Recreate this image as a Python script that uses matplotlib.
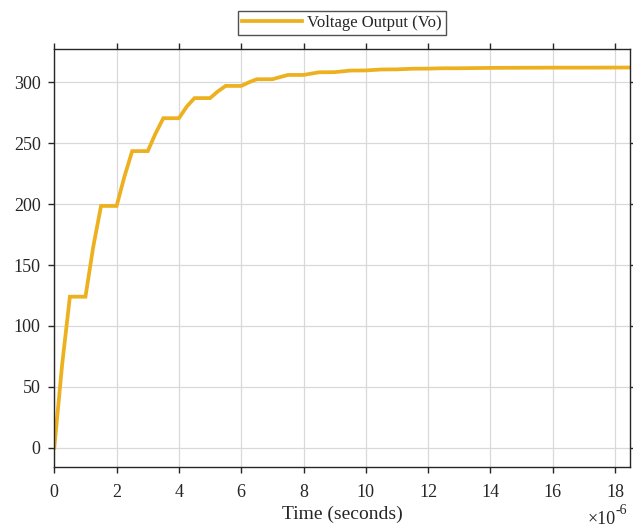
import matplotlib
matplotlib.use("Agg")
import matplotlib.pyplot as plt

# Data (time in microseconds, voltage in volts)
time_us = [0.0, 0.25, 0.5, 1.0, 1.25, 1.5, 2.0, 2.25, 2.5, 3.0, 3.25, 3.5,
           4.0, 4.25, 4.5, 5.0, 5.25, 5.5, 6.0, 6.25, 6.5, 7.0, 7.5, 8.0, 8.5, 9.0, 9.5,
           10.0, 10.5, 11.0, 11.5, 12.0, 12.5, 13.0, 14.0, 15.0, 16.0, 17.0, 18.5]
vout = [0.0, 68.0, 124.0, 124.0, 165.0, 198.5, 198.5, 222.5, 243.5, 243.5, 258.0, 270.5,
        270.5, 280.0, 287.0, 287.0, 292.5, 297.0, 297.0, 300.0, 302.5, 302.5, 306.0, 306.0, 308.2, 308.3, 309.6,
        309.7, 310.5, 310.6, 311.1, 311.2, 311.5, 311.5, 311.8, 311.9, 312.0, 312.0, 312.1]

x_ticks = [0, 2, 4, 6, 8, 10, 12, 14, 16, 18]
y_ticks = [0, 50, 100, 150, 200, 250, 300]
series_label = "Voltage Output (Vo)"
x_label = "Time (seconds)"

plt.rcParams['font.family'] = ['Liberation Serif', 'DejaVu Serif']

fig = plt.figure(figsize=(6.33, 5.28), dpi=100)
ax = fig.add_axes([0.0858, 0.1155, 0.9095, 0.7917])

ax.plot(time_us, vout, color='#EDB120', linewidth=2.7, label=series_label, solid_joinstyle='miter')

ax.set_xlim(0, 18.48)
ax.set_ylim(-15.8, 327.3)
ax.set_xticks(x_ticks)
ax.set_yticks(y_ticks)
ax.grid(True, color='#D9D9D9', linewidth=0.9)
ax.set_axisbelow(True)

for s in ax.spines.values():
    s.set_color('#262626')
    s.set_linewidth(1.0)

ax.tick_params(axis='both', which='both', direction='out', length=4.3, width=1.0,
               color='#262626', labelcolor='#262626', labelsize=13,
               top=True, right=True, labeltop=False, labelright=False)
ax.tick_params(axis='y', pad=5.5)
ax.tick_params(axis='x', pad=8)

ax.set_xlabel(x_label, fontsize=14, color='#262626', labelpad=3)

fig.text(588 / 633, 1 - 524 / 528, "×10", fontsize=13, color='#262626', ha='left', va='baseline')
fig.text(616 / 633, 1 - 514 / 528, "-6", fontsize=10, color='#262626', ha='left', va='baseline')

leg = ax.legend(loc='center', bbox_to_anchor=(0.5, 1.062), frameon=True, fancybox=False,
                fontsize=12, handlelength=3.6, borderpad=0.25, handletextpad=0.3,
                borderaxespad=0)
leg.get_frame().set_edgecolor('#262626')
leg.get_frame().set_linewidth(1.0)
for t in leg.get_texts():
    t.set_color('#262626')

fig.savefig("out.png", dpi=100)
